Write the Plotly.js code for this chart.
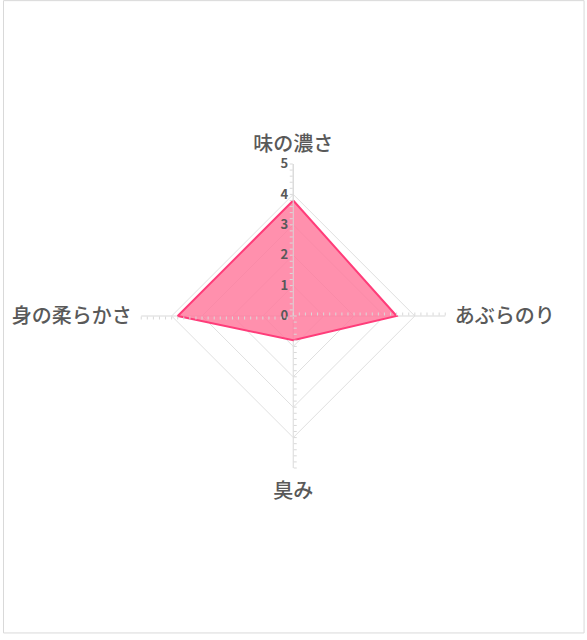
<!DOCTYPE html>
<html>
<head>
<meta charset="utf-8">
<script src="https://cdn.plot.ly/plotly-3.0.1.min.js"></script>
<style>
  html, body { margin: 0; padding: 0; background: #fff; }
  #chart { width: 587px; height: 640px; }
</style>
</head>
<body>
<div id="chart"></div>
<script>
// 評価項目（上から時計回り）
const categories = ['味の濃さ', 'あぶらのり', '臭み', '身の柔らかさ'];
const scores = [3.8, 3.4, 0.8, 3.8];
const radialTicks = [0, 1, 2, 3, 4, 5];

// small cross ticks every 0.2 on each spoke
const minorTicks = [];
for (let i = 0; i <= 25; i++) minorTicks.push(Math.round(i * 2) / 10);

const DOMAIN = { x: [0.2402, 0.7589], y: [0.26875, 0.74375] };
const FONT = '"Noto Sans CJK JP", "Noto Sans", sans-serif';

const traces = [{
    type: 'scatterpolar',
    r: scores.concat([scores[0]]),
    theta: categories.concat([categories[0]]),
    mode: 'lines',
    fill: 'toself',
    fillcolor: 'rgba(255,120,155,0.82)',
    line: { color: '#ff3d7a', width: 2 },
    hoverinfo: 'skip'
}];

const layout = {
    width: 587,
    height: 640,
    margin: { t: 0, b: 0, l: 0, r: 0 },
    paper_bgcolor: '#fff',
    showlegend: false,
    font: { family: FONT, color: '#595959' },
    polar: {
        domain: DOMAIN,
        gridshape: 'linear',
        bgcolor: 'rgba(0,0,0,0)',
        radialaxis: {
            range: [0, 5],
            angle: 90,
            side: 'counterclockwise',
            tickangle: 90,
            tickvals: radialTicks,
            ticks: '',
            showline: true,
            linecolor: '#d9d9d9',
            gridcolor: '#e0e0e0',
            tickfont: { size: 13, color: '#595959', family: FONT, weight: 'bold' }
        },
        angularaxis: {
            rotation: 90,
            direction: 'clockwise',
            categoryorder: 'array',
            categoryarray: categories,
            showline: false,
            gridcolor: '#d9d9d9',
            ticks: 'outside',
            ticklen: 5,
            tickcolor: 'rgba(0,0,0,0)',
            tickfont: { size: 20, color: '#595959', weight: 500 }
        }
    },
    shapes: [{
        type: 'rect', xref: 'paper', yref: 'paper',
        x0: 0.006, x1: 0.995, y0: 0.011, y1: 0.999,
        line: { color: '#d9d9d9', width: 1 }
    }]
};

// overlay subplots: one per spoke, only for the tick marks
[90, 0, 270, 180].forEach((ang, i) => {
    const name = 'polar' + (i + 2);
    layout[name] = {
        domain: DOMAIN,
        gridshape: 'linear',
        bgcolor: 'rgba(0,0,0,0)',
        radialaxis: {
            range: [0, 5],
            angle: ang,
            tickvals: minorTicks,
            showticklabels: false,
            showgrid: false,
            showline: false,
            ticks: 'inside',
            ticklen: 3,
            tickwidth: 1,
            tickcolor: '#d9d9d9'
        },
        angularaxis: {
            rotation: 90,
            direction: 'clockwise',
            categoryorder: 'array',
            categoryarray: categories,
            visible: false,
            showgrid: false
        }
    };
    traces.push({
        type: 'scatterpolar',
        subplot: name,
        r: [0],
        theta: [categories[0]],
        mode: 'markers',
        marker: { opacity: 0 },
        hoverinfo: 'skip'
    });
});

Plotly.newPlot('chart', traces, layout, { displayModeBar: false, staticPlot: true });
</script>
</body>
</html>
